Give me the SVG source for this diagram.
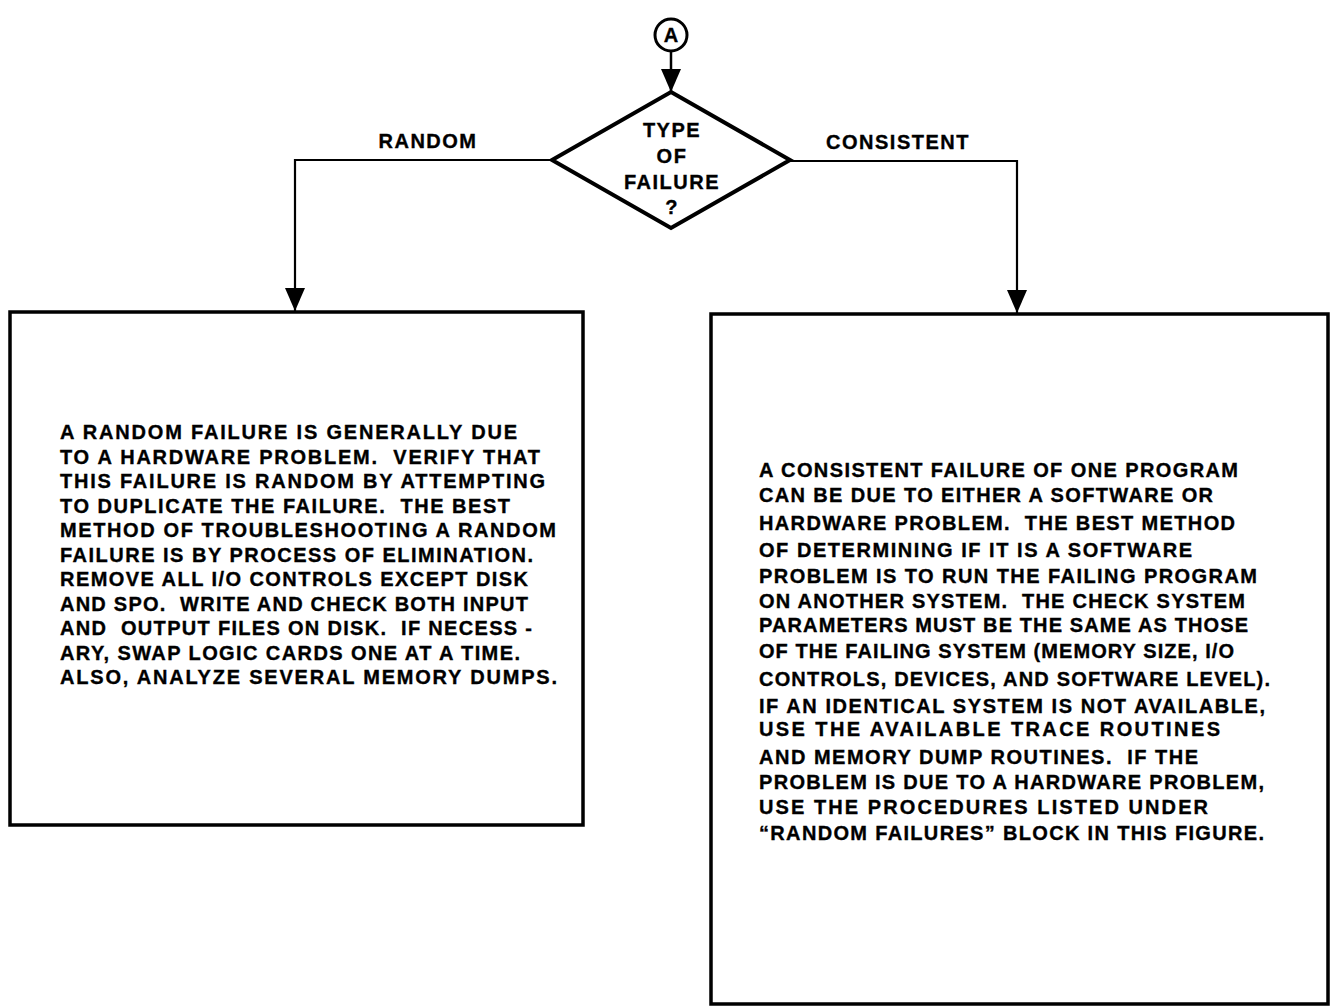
<svg xmlns="http://www.w3.org/2000/svg" width="1331" height="1008" viewBox="0 0 1331 1008" xml:space="preserve">
<style>
.shape{fill:#fff;stroke:#000;stroke-width:3.5}
.conn{fill:none;stroke:#000;stroke-width:2.2}
.t{font-family:"Liberation Sans",Arial,sans-serif;font-weight:bold;font-size:20px;fill:#000;stroke:#000;stroke-width:0.35;letter-spacing:1.5px;white-space:pre}
.b{letter-spacing:0}
.c{text-anchor:middle}
</style>
<defs>
<marker id="ah" markerUnits="userSpaceOnUse" markerWidth="24" markerHeight="20" refX="23" refY="10" orient="auto" viewBox="0 0 24 20">
<path d="M0,0 L23,10 L0,20 Z" fill="#000"/>
</marker>
</defs>
<rect width="1331" height="1008" fill="#fff"/>
<g id="connectors">
<line class="conn" x1="671" y1="52" x2="671" y2="92" marker-end="url(#ah)" style="stroke-width:2.5"/>
<polyline class="conn" points="552,160 295,160 295,311" marker-end="url(#ah)"/>
<polyline class="conn" points="790,161 1017,161 1017,313" marker-end="url(#ah)"/>
<text class="t c" x="428" y="148">RANDOM</text>
<text class="t c" x="898" y="149">CONSISTENT</text>
</g>
<g id="start">
<circle class="shape" cx="671" cy="35" r="16" style="stroke-width:3"/>
<text class="t c" x="671" y="42" style="letter-spacing:0">A</text>
</g>
<g id="decision">
<polygon class="shape" points="671,92 790,160 671,228 552,160" style="stroke-width:4"/>
<text class="t c" x="672" y="137">TYPE</text>
<text class="t c" x="672" y="163">OF</text>
<text class="t c" x="672" y="189">FAILURE</text>
<text class="t c" x="672" y="214">?</text>
</g>
<g id="random-box">
<rect class="shape" x="10" y="312" width="573" height="513"/>
<text class="t b" x="60" y="439" textLength="457" lengthAdjust="spacing">A RANDOM FAILURE IS GENERALLY DUE</text>
<text class="t b" x="60" y="464" textLength="480" lengthAdjust="spacing">TO A HARDWARE PROBLEM.  VERIFY THAT</text>
<text class="t b" x="60" y="488" textLength="485" lengthAdjust="spacing">THIS FAILURE IS RANDOM BY ATTEMPTING</text>
<text class="t b" x="60" y="513" textLength="450" lengthAdjust="spacing">TO DUPLICATE THE FAILURE.  THE BEST</text>
<text class="t b" x="60" y="537" textLength="496" lengthAdjust="spacing">METHOD OF TROUBLESHOOTING A RANDOM</text>
<text class="t b" x="60" y="562" textLength="473" lengthAdjust="spacing">FAILURE IS BY PROCESS OF ELIMINATION.</text>
<text class="t b" x="60" y="586" textLength="468" lengthAdjust="spacing">REMOVE ALL I/O CONTROLS EXCEPT DISK</text>
<text class="t b" x="60" y="611" textLength="468" lengthAdjust="spacing">AND SPO.  WRITE AND CHECK BOTH INPUT</text>
<text class="t b" x="60" y="635" textLength="472" lengthAdjust="spacing">AND  OUTPUT FILES ON DISK.  IF NECESS -</text>
<text class="t b" x="60" y="660" textLength="460" lengthAdjust="spacing">ARY, SWAP LOGIC CARDS ONE AT A TIME.</text>
<text class="t b" x="60" y="684" textLength="497" lengthAdjust="spacing">ALSO, ANALYZE SEVERAL MEMORY DUMPS.</text>
</g>
<g id="consistent-box">
<rect class="shape" x="711" y="314" width="617" height="690"/>
<text class="t b" x="759" y="477" textLength="479" lengthAdjust="spacing">A CONSISTENT FAILURE OF ONE PROGRAM</text>
<text class="t b" x="759" y="502" textLength="454" lengthAdjust="spacing">CAN BE DUE TO EITHER A SOFTWARE OR</text>
<text class="t b" x="759" y="530" textLength="476" lengthAdjust="spacing">HARDWARE PROBLEM.  THE BEST METHOD</text>
<text class="t b" x="759" y="557" textLength="433" lengthAdjust="spacing">OF DETERMINING IF IT IS A SOFTWARE</text>
<text class="t b" x="759" y="583" textLength="498" lengthAdjust="spacing">PROBLEM IS TO RUN THE FAILING PROGRAM</text>
<text class="t b" x="759" y="608" textLength="486" lengthAdjust="spacing">ON ANOTHER SYSTEM.  THE CHECK SYSTEM</text>
<text class="t b" x="759" y="632" textLength="489" lengthAdjust="spacing">PARAMETERS MUST BE THE SAME AS THOSE</text>
<text class="t b" x="759" y="658" textLength="475" lengthAdjust="spacing">OF THE FAILING SYSTEM (MEMORY SIZE, I/O</text>
<text class="t b" x="759" y="686" textLength="511" lengthAdjust="spacing">CONTROLS, DEVICES, AND SOFTWARE LEVEL).</text>
<text class="t b" x="759" y="713" textLength="506" lengthAdjust="spacing">IF AN IDENTICAL SYSTEM IS NOT AVAILABLE,</text>
<text class="t b" x="759" y="736" textLength="461" lengthAdjust="spacing">USE THE AVAILABLE TRACE ROUTINES</text>
<text class="t b" x="759" y="764" textLength="439" lengthAdjust="spacing">AND MEMORY DUMP ROUTINES.  IF THE</text>
<text class="t b" x="759" y="789" textLength="505" lengthAdjust="spacing">PROBLEM IS DUE TO A HARDWARE PROBLEM,</text>
<text class="t b" x="759" y="814" textLength="449" lengthAdjust="spacing">USE THE PROCEDURES LISTED UNDER</text>
<text class="t b" x="759" y="840" textLength="505" lengthAdjust="spacing">“RANDOM FAILURES” BLOCK IN THIS FIGURE.</text>
</g>
</svg>
